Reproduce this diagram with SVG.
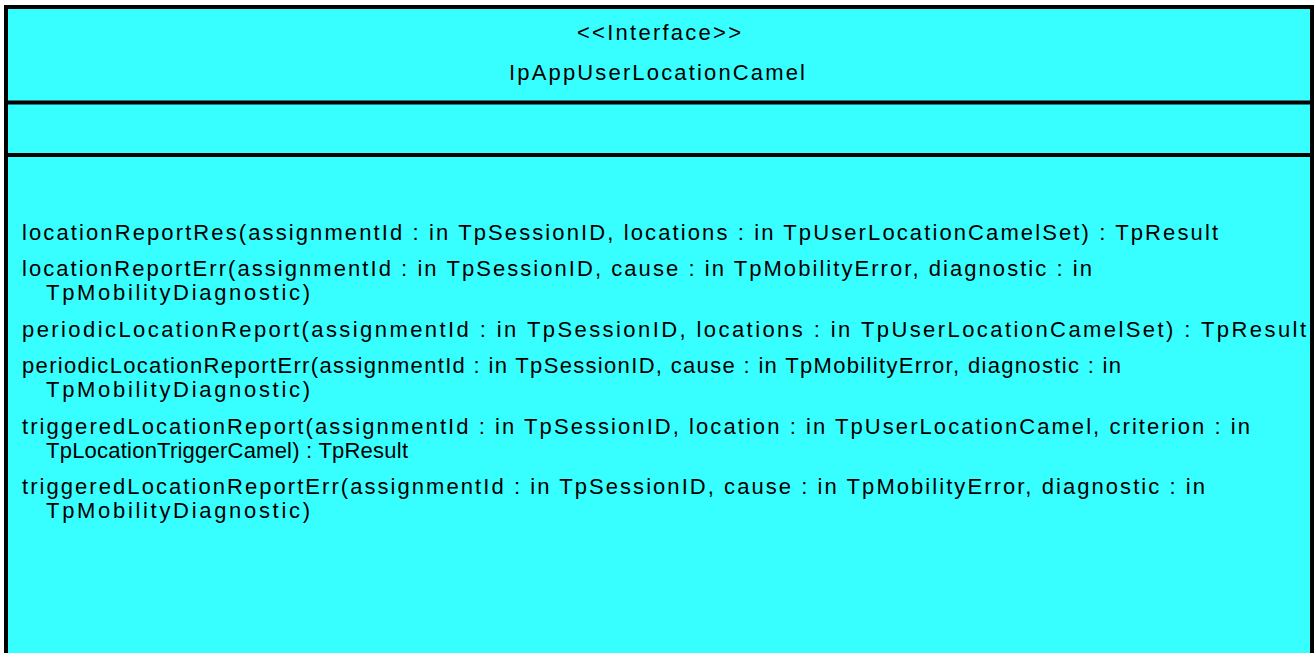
<svg xmlns="http://www.w3.org/2000/svg" width="1314" height="653" viewBox="0 0 1314 653">
  <style>
    .box { fill: #38FFFF; stroke: #000000; stroke-width: 4; }
    .sep { stroke: #000000; stroke-width: 4; }
    text { font-family: "Liberation Sans", Arial, sans-serif; font-size: 22px; fill: #000000; }
    .c { text-anchor: middle; }
  </style>
  <g id="class-IpAppUserLocationCamel">
    <rect class="box" x="6" y="7" width="1306" height="700"/>
    <line class="sep" x1="6" y1="102.5" x2="1312" y2="102.5"/>
    <line class="sep" x1="6" y1="155" x2="1312" y2="155"/>
    <text class="c" x="659" y="40" textLength="164" lengthAdjust="spacing">&lt;&lt;Interface&gt;&gt;</text>
    <text class="c" x="657" y="80" textLength="296" lengthAdjust="spacing">IpAppUserLocationCamel</text>
    <text x="22" y="240" textLength="1196" lengthAdjust="spacing">locationReportRes(assignmentId : in TpSessionID, locations : in TpUserLocationCamelSet) : TpResult</text>
    <text x="22" y="276" textLength="1070" lengthAdjust="spacing">locationReportErr(assignmentId : in TpSessionID, cause : in TpMobilityError, diagnostic : in</text>
    <text x="46" y="300" textLength="264" lengthAdjust="spacing">TpMobilityDiagnostic)</text>
    <text x="22" y="337" textLength="1284" lengthAdjust="spacing">periodicLocationReport(assignmentId : in TpSessionID, locations : in TpUserLocationCamelSet) : TpResult</text>
    <text x="22" y="373" textLength="1099" lengthAdjust="spacing">periodicLocationReportErr(assignmentId : in TpSessionID, cause : in TpMobilityError, diagnostic : in</text>
    <text x="46" y="397" textLength="264" lengthAdjust="spacing">TpMobilityDiagnostic)</text>
    <text x="22" y="434" textLength="1228" lengthAdjust="spacing">triggeredLocationReport(assignmentId : in TpSessionID, location : in TpUserLocationCamel, criterion : in</text>
    <text x="46" y="458" textLength="362" lengthAdjust="spacing">TpLocationTriggerCamel) : TpResult</text>
    <text x="22" y="494" textLength="1183" lengthAdjust="spacing">triggeredLocationReportErr(assignmentId : in TpSessionID, cause : in TpMobilityError, diagnostic : in</text>
    <text x="46" y="518" textLength="264" lengthAdjust="spacing">TpMobilityDiagnostic)</text>
  </g>
  <g id="connectors"/>
</svg>
